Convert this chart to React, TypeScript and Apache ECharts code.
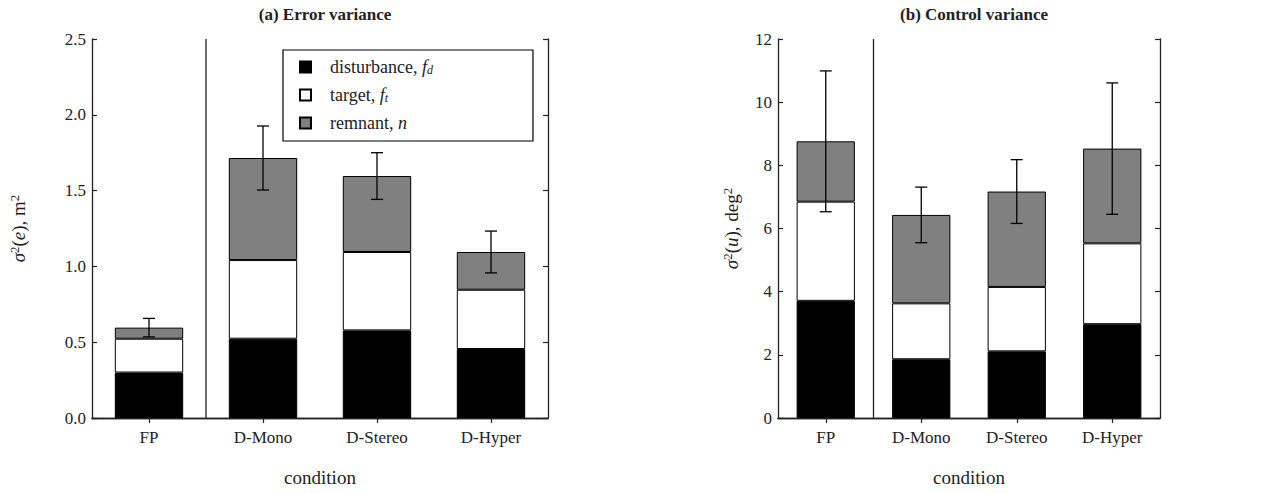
import React, { useEffect, useRef } from "react";
import * as echarts from "echarts";

const categories = ["FP", "D-Mono", "D-Stereo", "D-Hyper"];

// (a) Error variance, m^2 — stacked components
const errDisturbance = [0.3, 0.523, 0.578, 0.455];
const errTarget = [0.223, 0.519, 0.517, 0.391];
const errRemnant = [0.073, 0.673, 0.501, 0.249];
const errSD = [0.061, 0.211, 0.154, 0.138];

// (b) Control variance, deg^2 — stacked components
const ctlDisturbance = [3.71, 1.86, 2.11, 2.97];
const ctlTarget = [3.14, 1.77, 2.04, 2.56];
const ctlRemnant = [1.91, 2.8, 3.02, 3.0];
const ctlSD = [2.23, 0.88, 1.01, 2.08];

const errYAxis = { min: 0, max: 2.5, interval: 0.5 };
const ctlYAxis = { min: 0, max: 12, interval: 2 };

const FONT = "Liberation Serif";
const TXT = "#222";
const AX = "#222";

function totals(a: number[], b: number[], c: number[]) {
  return a.map((v, i) => v + b[i] + c[i]);
}

export default function App() {
  const ref = useRef<HTMLDivElement>(null);
  useEffect(() => {
    document.body.style.margin = "0";
    if (!ref.current) return;
    const chart = echarts.init(ref.current, null, { renderer: "svg" });

    const axisLine = { show: true, lineStyle: { color: AX, width: 1.3 } };
    const tick = { show: true, inside: true, length: 5, lineStyle: { color: AX, width: 1.2 } };

    const xAxisFor = (gridIndex: number) => [
      {
        type: "category",
        gridIndex,
        data: categories,
        position: "bottom",
        axisLine,
        axisTick: { ...tick, alignWithLabel: true },
        axisLabel: { color: TXT, fontFamily: FONT, fontSize: 17, margin: 11 },
        name: "condition",
        nameLocation: "middle",
        nameGap: 50,
        nameTextStyle: { color: TXT, fontFamily: FONT, fontSize: 19 },
      },
      {
        type: "category",
        gridIndex,
        data: categories,
        position: "top",
        axisLine,
        axisTick: { ...tick, alignWithLabel: true },
        axisLabel: { show: false },
      },
    ];

    const yName = (v: string, unit: string) => `{i|σ}{sup|2}{r|(}{i|${v}}{r|), ${unit}}{sup|2}`;
    const nameRich = {
      i: { fontStyle: "italic", fontFamily: FONT, fontSize: 19, color: TXT },
      r: { fontFamily: FONT, fontSize: 19, color: TXT },
      sup: { fontFamily: FONT, fontSize: 13, color: TXT, verticalAlign: "top", padding: [0, 0, 8, 0] },
    };

    const yAxisFor = (gridIndex: number, cfg: any, name: string, gap: number, fmt: (v: number) => string) => [
      {
        type: "value",
        gridIndex,
        ...cfg,
        position: "left",
        axisLine,
        axisTick: tick,
        splitLine: { show: false },
        axisLabel: { color: TXT, fontFamily: FONT, fontSize: 17, margin: 6, formatter: fmt },
        name,
        nameLocation: "middle",
        nameRotate: 90,
        nameGap: gap,
        nameTextStyle: { color: TXT, fontFamily: FONT, fontSize: 19, rich: nameRich },
      },
      {
        type: "value",
        gridIndex,
        ...cfg,
        position: "right",
        axisLine,
        axisTick: tick,
        splitLine: { show: false },
        axisLabel: { show: false },
      },
    ];

    const barStyle = (color: string) => ({ color, borderColor: "#000", borderWidth: 1 });

    const stackSeries = (idx: number, d: number[], t: number[], n: number[], width: string) => [
      { name: "disturbance", type: "bar", xAxisIndex: idx * 2, yAxisIndex: idx * 2, stack: "s" + idx, data: d, barWidth: width, itemStyle: barStyle("#000000") },
      { name: "target", type: "bar", xAxisIndex: idx * 2, yAxisIndex: idx * 2, stack: "s" + idx, data: t, barWidth: width, itemStyle: barStyle("#ffffff") },
      { name: "remnant", type: "bar", xAxisIndex: idx * 2, yAxisIndex: idx * 2, stack: "s" + idx, data: n, barWidth: width, itemStyle: barStyle("#808080") },
    ];

    const errorSeries = (idx: number, tot: number[], sd: number[]) => ({
      type: "custom",
      xAxisIndex: idx * 2,
      yAxisIndex: idx * 2,
      z: 10,
      silent: true,
      data: categories.map((_, i) => [i, tot[i], sd[i]]),
      renderItem: (params: any, api: any) => {
        const x = api.value(0);
        const top = api.value(1);
        const s = api.value(2);
        const hi = api.coord([x, top + s]);
        const lo = api.coord([x, top - s]);
        const cap = 6;
        const st = { stroke: "#000", lineWidth: 1.3 };
        return {
          type: "group",
          children: [
            { type: "line", shape: { x1: hi[0], y1: hi[1], x2: lo[0], y2: lo[1] }, style: st },
            { type: "line", shape: { x1: hi[0] - cap, y1: hi[1], x2: hi[0] + cap, y2: hi[1] }, style: st },
            { type: "line", shape: { x1: lo[0] - cap, y1: lo[1], x2: lo[0] + cap, y2: lo[1] }, style: st },
          ],
        };
      },
    });

    const separatorSeries = (idx: number) => ({
      type: "custom",
      xAxisIndex: idx * 2,
      yAxisIndex: idx * 2,
      z: 9,
      silent: true,
      data: [[0, 0]],
      renderItem: (params: any, api: any) => {
        const c = api.coord([0, 0]);
        const w = api.size([1, 0])[0];
        const xs = c[0] + w / 2;
        const cs = params.coordSys;
        return {
          type: "line",
          shape: { x1: xs, y1: cs.y, x2: xs, y2: cs.y + cs.height },
          style: { stroke: AX, lineWidth: 1.3 },
        };
      },
    });

    const legendNames: Record<string, string> = {
      disturbance: "{r|disturbance, }{i|f}{sub|d}",
      target: "{r|target, }{i|f}{sub|t}",
      remnant: "{r|remnant, }{i|n}",
    };

    const option: any = {
      animation: false,
      backgroundColor: "#ffffff",
      textStyle: { fontFamily: FONT },
      title: [
        { text: "(a) Error variance", left: 320, top: 1, textAlign: "center", textStyle: { fontFamily: FONT, fontSize: 17, fontWeight: "bold", color: TXT } },
        { text: "(b) Control variance", left: 969, top: 1, textAlign: "center", textStyle: { fontFamily: FONT, fontSize: 17, fontWeight: "bold", color: TXT } },
      ],
      legend: {
        orient: "vertical",
        left: 283,
        top: 50,
        padding: [8, 100, 9, 16],
        itemGap: 10,
        itemWidth: 11,
        itemHeight: 11,
        icon: "rect",
        borderColor: "#000",
        borderWidth: 1.2,
        backgroundColor: "#fff",
        data: ["disturbance", "target", "remnant"],
        formatter: (n: string) => legendNames[n] || n,
        textStyle: {
          fontFamily: FONT,
          fontSize: 18,
          color: TXT,
          rich: {
            r: { fontFamily: FONT, fontSize: 18, color: TXT, padding: [0, 0, 0, 14] },
            i: { fontFamily: FONT, fontSize: 18, fontStyle: "italic", color: TXT },
            sub: { fontFamily: FONT, fontSize: 12, fontStyle: "italic", color: TXT, verticalAlign: "bottom", padding: [6, 0, 0, 0] },
          },
        },
      },
      grid: [
        { left: 92, top: 39, width: 456, height: 379 },
        { left: 778, top: 39, width: 382, height: 379 },
      ],
      xAxis: [...xAxisFor(0), ...xAxisFor(1)],
      yAxis: [
        ...yAxisFor(0, errYAxis, yName("e", "m"), 63, (v: number) => v.toFixed(1)),
        ...yAxisFor(1, ctlYAxis, yName("u", "deg"), 36, (v: number) => String(v)),
      ],
      series: [
        ...stackSeries(0, errDisturbance, errTarget, errRemnant, "60%"),
        ...stackSeries(1, ctlDisturbance, ctlTarget, ctlRemnant, "61%"),
        errorSeries(0, totals(errDisturbance, errTarget, errRemnant), errSD),
        errorSeries(1, totals(ctlDisturbance, ctlTarget, ctlRemnant), ctlSD),
        separatorSeries(0),
        separatorSeries(1),
      ],
    };
    chart.setOption(option);
    return () => chart.dispose();
  }, []);
  return <div ref={ref} style={{ position: "fixed", left: 0, top: 0, width: 1262, height: 493 }} />;
}
